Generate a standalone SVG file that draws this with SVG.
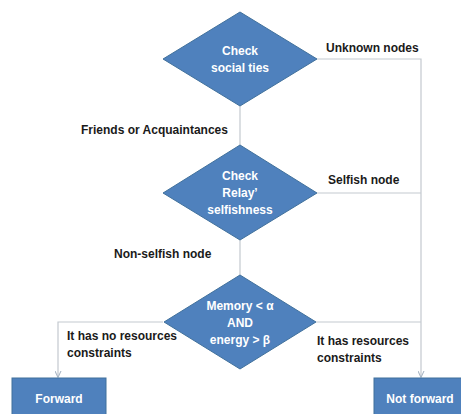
<svg xmlns="http://www.w3.org/2000/svg" width="461" height="414" viewBox="0 0 461 414">
<defs>
<marker id="arr" viewBox="0 0 8 8" refX="7" refY="4" markerWidth="7" markerHeight="7" markerUnits="userSpaceOnUse" orient="auto">
<path d="M0,0.5 L7.5,4 L0,7.5" fill="none" stroke="#a9b6c4" stroke-width="1.2"/>
</marker>
<style>
.shape{fill:#4f81bd;stroke:#41719c;stroke-width:1}
.wt{fill:#ffffff;font-family:"Liberation Sans",Arial,sans-serif;font-weight:bold;font-size:12px;text-anchor:middle}
.lb{fill:#1a1a1a;font-family:"Liberation Sans",Arial,sans-serif;font-weight:bold;font-size:12px}
.ln{fill:none;stroke:#c3c9cf;stroke-width:1.2}
</style>
</defs>
<rect width="461" height="414" fill="#ffffff"/>
<g id="connectors">
<path class="ln" d="M240,106 V145"/>
<path class="ln" d="M240,240 V275"/>
<path class="ln" d="M317,59 H421 V377" marker-end="url(#arr)"/>
<path class="ln" d="M317,193 H421"/>
<path class="ln" d="M316,322 H421"/>
<path class="ln" d="M163,322 H58 V377" marker-end="url(#arr)"/>
</g>
<g id="labels">
<text class="lb" x="326" y="52">Unknown nodes</text>
<text class="lb" x="81" y="134">Friends or Acquaintances</text>
<text class="lb" x="328" y="184">Selfish node</text>
<text class="lb" x="114" y="258">Non-selfish node</text>
<text class="lb" x="67" y="340">It has no resources</text>
<text class="lb" x="67" y="357">constraints</text>
<text class="lb" x="317" y="345">It has resources</text>
<text class="lb" x="317" y="362">constraints</text>
</g>
<g id="check-social">
<polygon class="shape" points="240,12 317,59 240,106 163,59"/>
<text class="wt" x="240" y="55">Check</text>
<text class="wt" x="240" y="72">social ties</text>
</g>
<g id="check-relay">
<polygon class="shape" points="240,145 317,193 240,240 163,193"/>
<text class="wt" x="240" y="180">Check</text>
<text class="wt" x="240" y="197">Relay’</text>
<text class="wt" x="240" y="214">selfishness</text>
</g>
<g id="memory-energy">
<polygon class="shape" points="240,275 316,322 240,369 164,322"/>
<text class="wt" x="240" y="310">Memory &lt; α</text>
<text class="wt" x="240" y="327">AND</text>
<text class="wt" x="240" y="344">energy &gt; β</text>
</g>
<g id="forward">
<rect class="shape" x="12" y="378" width="94" height="40"/>
<text class="wt" x="59" y="403">Forward</text>
</g>
<g id="not-forward">
<rect class="shape" x="374" y="378" width="94" height="40"/>
<text class="wt" x="420" y="403">Not forward</text>
</g>
</svg>
